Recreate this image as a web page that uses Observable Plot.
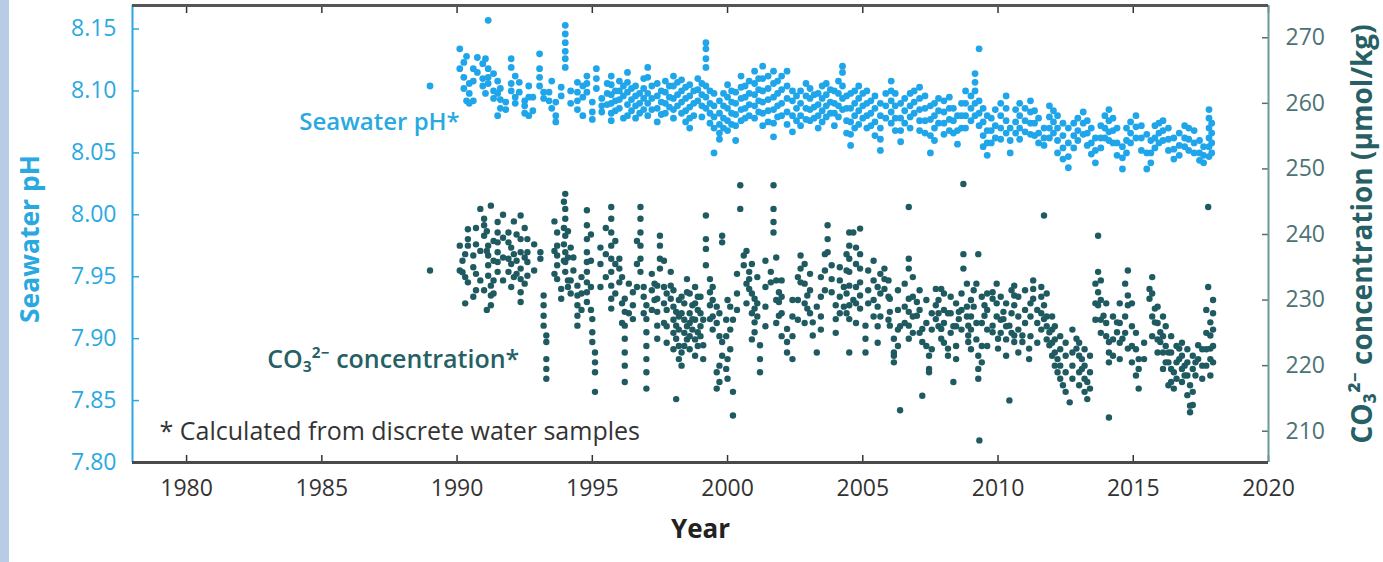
<!DOCTYPE html>
<html><head><meta charset="utf-8">
<script src="https://cdn.jsdelivr.net/npm/d3@7"></script>
<script src="https://cdn.jsdelivr.net/npm/@observablehq/plot@0.6"></script>
<style>
html,body{margin:0;padding:0;background:#fff;}
#wrap{position:relative;width:1383px;height:562px;overflow:hidden;}
#strip{position:absolute;left:0;top:0;width:9px;height:562px;background:#b8cce6;}
</style></head><body><div id="wrap"><div id="strip"></div><div id="chart"></div></div>
<script>
const yearTicks = [1980, 1985, 1990, 1995, 2000, 2005, 2010, 2015, 2020];
const phTicks = [7.80, 7.85, 7.90, 7.95, 8.00, 8.05, 8.10, 8.15];
const co3Ticks = [210, 220, 230, 240, 250, 260, 270];
const yearDomain = [1978, 2020];
const phDomain = [7.80, 8.169];
const co3Domain = [205.23, 274.92];

// [year, [pH values sampled around that time]]
const phColumns = [
[1989.0,[8.104]],[1990.1,[8.134,8.118]],[1990.25,[8.123,8.111,8.102]],[1990.35,[8.128,8.092]],[1990.45,[8.106,8.098,8.090]],
[1990.6,[8.118,8.108,8.092]],[1990.75,[8.127,8.115]],[1990.95,[8.122,8.110,8.104]],[1991.05,[8.126,8.098]],
[1991.15,[8.157,8.118,8.111,8.106]],[1991.35,[8.114,8.100,8.094]],[1991.5,[8.108,8.098,8.080]],
[1991.6,[8.102,8.093,8.086]],[1991.8,[8.091,8.085]],[1992.0,[8.126,8.119,8.106,8.100]],[1992.15,[8.112,8.095,8.090]],
[1992.3,[8.107,8.099]],[1992.5,[8.092,8.088,8.082]],[1992.65,[8.104,8.095,8.080]],[1992.8,[8.095,8.084]],
[1993.05,[8.130,8.118,8.111,8.104]],[1993.2,[8.099,8.094]],[1993.4,[8.099,8.092]],[1993.5,[8.108,8.086]],
[1993.65,[8.091,8.080,8.075]],[1993.85,[8.103,8.096]],[1994.0,[8.153,8.146,8.139,8.132,8.126,8.119]],
[1994.2,[8.100,8.090]],[1994.45,[8.107,8.099,8.092,8.085]],[1994.65,[8.104,8.095,8.080]],[1994.8,[8.112,8.106,8.099]],
[1995.0,[8.091,8.083,8.077]],[1995.15,[8.118,8.110,8.102]],[1995.35,[8.094,8.088,8.083]],[1995.55,[8.106,8.098,8.089]],
[1995.7,[8.112,8.105,8.097,8.090,8.082,8.076]],[1995.85,[8.100,8.092,8.084]],[1996.0,[8.108,8.100,8.093,8.086]],
[1996.15,[8.104,8.096,8.078]],[1996.3,[8.115,8.107,8.099,8.089,8.080]],[1996.45,[8.102,8.093,8.084]],
[1996.6,[8.104,8.096,8.088,8.078]],[1996.75,[8.098,8.090,8.082]],[1996.9,[8.110,8.102,8.094,8.085]],
[1997.05,[8.119,8.111,8.098,8.090,8.080]],[1997.2,[8.104,8.094,8.085]],[1997.4,[8.106,8.096,8.086,8.075]],
[1997.55,[8.100,8.091,8.081]],[1997.7,[8.108,8.099,8.090,8.082]],[1997.85,[8.104,8.095,8.087]],
[1998.0,[8.112,8.104,8.094,8.085,8.078]],[1998.15,[8.107,8.097,8.088]],[1998.3,[8.109,8.100,8.091,8.082]],
[1998.45,[8.103,8.094,8.084,8.075]],[1998.6,[8.105,8.096,8.087,8.078,8.070]],[1998.75,[8.100,8.090,8.080]],
[1998.9,[8.110,8.101,8.092]],[1999.05,[8.106,8.097,8.088,8.079]],[1999.2,[8.139,8.134,8.126,8.119,8.104,8.095,8.086]],
[1999.35,[8.100,8.090,8.082,8.074]],[1999.5,[8.098,8.088,8.079,8.070,8.050]],[1999.7,[8.092,8.082,8.073,8.066,8.061]],
[1999.85,[8.098,8.088,8.078,8.070]],[2000.0,[8.105,8.095,8.086,8.076,8.068]],[2000.15,[8.100,8.091,8.082,8.073]],
[2000.3,[8.099,8.090,8.081,8.072,8.060]],[2000.5,[8.112,8.103,8.094,8.085,8.076]],[2000.65,[8.104,8.095,8.086,8.078]],
[2000.8,[8.108,8.098,8.089,8.080]],[2001.0,[8.116,8.106,8.097,8.088,8.078]],[2001.15,[8.110,8.101,8.092,8.083]],
[2001.3,[8.120,8.110,8.100,8.091,8.082,8.072]],[2001.5,[8.112,8.102,8.093,8.084,8.075]],
[2001.7,[8.116,8.106,8.095,8.085,8.074,8.063]],[2001.85,[8.108,8.098,8.088,8.079]],[2002.0,[8.112,8.101,8.090,8.080]],
[2002.2,[8.116,8.104,8.094,8.083,8.073]],[2002.4,[8.100,8.092,8.080,8.067]],[2002.55,[8.096,8.086,8.076]],
[2002.7,[8.100,8.090,8.080,8.072]],[2002.9,[8.106,8.096,8.086,8.077]],[2003.05,[8.102,8.094,8.085,8.076]],
[2003.2,[8.097,8.087,8.078]],[2003.35,[8.098,8.089,8.080,8.070]],[2003.5,[8.104,8.094,8.084,8.075]],
[2003.65,[8.106,8.097,8.088,8.079]],[2003.8,[8.101,8.091,8.082]],[2003.95,[8.100,8.090,8.082,8.072]],
[2004.1,[8.108,8.098,8.088,8.079]],[2004.25,[8.120,8.115,8.104,8.094,8.085]],[2004.4,[8.096,8.086,8.076,8.066]],
[2004.55,[8.098,8.086,8.075,8.065,8.056]],[2004.7,[8.100,8.090,8.080,8.070]],[2004.85,[8.104,8.094,8.084,8.073]],
[2005.0,[8.098,8.088,8.078]],[2005.15,[8.100,8.090,8.080,8.070]],[2005.3,[8.092,8.082,8.072]],
[2005.45,[8.096,8.086,8.075,8.064]],[2005.65,[8.090,8.080,8.070,8.061,8.052]],[2005.85,[8.098,8.088,8.078]],
[2006.05,[8.108,8.100,8.092,8.083,8.074]],[2006.2,[8.098,8.088,8.078,8.068]],[2006.4,[8.090,8.078,8.068,8.059]],
[2006.55,[8.094,8.084,8.074]],[2006.75,[8.098,8.088,8.079,8.070]],[2006.9,[8.100,8.091,8.082]],
[2007.1,[8.103,8.094,8.085,8.076,8.068]],[2007.3,[8.096,8.086,8.076,8.066]],[2007.5,[8.088,8.077,8.064,8.050]],
[2007.65,[8.090,8.080,8.070,8.060]],[2007.8,[8.094,8.084,8.074]],[2008.0,[8.092,8.083,8.074,8.065]],
[2008.2,[8.095,8.086,8.077,8.068]],[2008.35,[8.086,8.076,8.066]],[2008.5,[8.080,8.068,8.057]],
[2008.65,[8.090,8.080,8.070]],[2008.8,[8.100,8.090,8.080,8.070]],[2009.0,[8.096,8.086,8.076]],
[2009.15,[8.114,8.107,8.100,8.090,8.080]],[2009.3,[8.134,8.092,8.082,8.072]],[2009.45,[8.086,8.075,8.064,8.055]],
[2009.6,[8.080,8.068,8.058,8.048]],[2009.75,[8.078,8.068,8.058]],[2009.9,[8.085,8.072,8.062]],
[2010.1,[8.090,8.080,8.070,8.061]],[2010.3,[8.096,8.086,8.076,8.066]],[2010.45,[8.070,8.060,8.050]],
[2010.65,[8.085,8.075,8.066]],[2010.8,[8.090,8.080,8.070,8.061]],[2011.0,[8.086,8.076,8.067]],
[2011.2,[8.092,8.083,8.074,8.065]],[2011.35,[8.084,8.074,8.064]],[2011.5,[8.078,8.066,8.058]],
[2011.7,[8.070,8.062,8.056]],[2011.9,[8.088,8.079,8.070,8.062]],[2012.05,[8.084,8.075,8.066]],
[2012.2,[8.080,8.070,8.060,8.050]],[2012.4,[8.074,8.064,8.054,8.045]],[2012.6,[8.070,8.058,8.047,8.038]],
[2012.8,[8.074,8.064,8.054]],[2012.95,[8.078,8.068,8.060]],[2013.15,[8.083,8.074,8.065]],
[2013.3,[8.076,8.066,8.056]],[2013.45,[8.070,8.058,8.049]],[2013.6,[8.062,8.052,8.042]],
[2013.8,[8.072,8.062,8.054]],[2013.95,[8.080,8.070,8.062]],[2014.1,[8.085,8.076,8.067,8.060]],
[2014.25,[8.078,8.068,8.058]],[2014.4,[8.070,8.058,8.048]],[2014.6,[8.055,8.046,8.037]],
[2014.75,[8.070,8.060,8.050]],[2014.9,[8.075,8.066,8.058]],[2015.1,[8.080,8.071,8.062]],
[2015.3,[8.072,8.062,8.052]],[2015.5,[8.065,8.050,8.037]],[2015.65,[8.060,8.050,8.042]],
[2015.8,[8.072,8.062,8.054]],[2015.95,[8.074,8.066,8.058]],[2016.1,[8.076,8.068,8.060]],
[2016.3,[8.070,8.061,8.052]],[2016.5,[8.062,8.053,8.045]],[2016.7,[8.066,8.056,8.048]],
[2016.9,[8.072,8.062,8.055]],[2017.05,[8.070,8.061,8.052]],[2017.25,[8.068,8.058,8.050]],
[2017.45,[8.060,8.050,8.044]],[2017.6,[8.055,8.048,8.042]],[2017.8,[8.085,8.078,8.070,8.062,8.055,8.047]],
[2017.9,[8.074,8.066,8.058,8.050]]
];

// [year, [CO3 2- concentration values, µmol/kg]]
const co3Columns = [
[1989.0,[234.5]],[1990.1,[234.5,238.3]],[1990.2,[234.25,236.0]],[1990.3,[237.0,233.5,229.5]],[1990.4,[240.8,239.3,238.3,232.7]],
[1990.6,[236.8,235.0,230.5]],[1990.7,[241.0,238.5,234.0,231.5]],[1990.86,[243.9,237.5,233.0]],[1991.0,[242.4,241.4,239.8,231.5]],
[1991.1,[240.5,237.5,228.5]],[1991.15,[238.3,236.8,235.3,233.7]],[1991.25,[244.4,232.2,230.7,229.2]],
[1991.35,[239.0,236.0,233.0,231.0]],[1991.5,[241.9,240.3,238.8,237.3,235.8,234.3]],[1991.7,[243.0,239.5,236.5,233.0]],
[1991.9,[240.3,238.8,236.3,234.3]],[1992.0,[238.0,235.5,232.0]],[1992.1,[242.0,237.0,233.5]],[1992.2,[240.0,236.0,234.0]],
[1992.35,[242.9,239.3,237.3,234.8,233.2,231.2,229.7]],[1992.5,[241.0,236.5,232.5]],
[1992.6,[239.3,237.3,235.8,233.7]],[1992.85,[238.5,234.5]],[1993.08,[237.3,236.3]],[1993.2,[230.7,229.2,227.6,226.1]],
[1993.3,[224.6,223.6,221.0,219.5,218.0]],[1993.6,[242.0,237.5,234.0]],[1993.7,[240.3,238.3,236.8,235.3,233.2]],
[1993.85,[231.7,230.2]],[1993.95,[245.0,241.0,238.5,236.0]],[1994.0,[246.2,243.9,242.4,239.8,237.3,235.8,234.3]],
[1994.1,[240.5,236.5,233.0,232.0]],[1994.2,[238.0,233.0,231.0]],[1994.3,[236.5,234.5]],
[1994.45,[232.2,230.7,229.2,227.6,226.1]],[1994.6,[233.5,231.0,228.5]],
[1994.8,[243.7,241.4,239.3,237.3,235.8,234.3,232.7,231.2,229.7]],[1994.95,[240.0,236.0,232.0,228.5]],
[1995.0,[227.1,225.1,223.6]],[1995.1,[222.0,220.5,219.0,216.0]],[1995.3,[238.0,235.5,232.0]],[1995.5,[241.0,237.0,233.5]],
[1995.7,[244.2,242.4,240.3,238.3,236.3,234.3,232.2,230.2,228.7]],[1995.85,[239.0,235.5,231.0]],[1996.0,[236.3,234.8,232.7]],
[1996.1,[233.5,229.5,226.5]],[1996.2,[230.2,228.2,226.1,224.1,222.0,220.0,217.5]],[1996.35,[232.5,228.0]],
[1996.5,[231.2,229.2,227.1]],[1996.65,[239.0,235.5,232.0]],[1996.78,[244.2,242.4,240.3,238.3,236.3,234.3]],
[1996.9,[232.0,230.5,228.0]],[1997.0,[229.2,227.1,225.1,223.0,221.0,219.0,216.5]],[1997.2,[234.0,231.5,228.5]],
[1997.3,[232.5,230.0]],[1997.4,[232.2,230.2,228.2,226.1,224.1]],[1997.5,[239.8,238.3,236.3,234.8]],
[1997.65,[236.0,232.0,229.5,226.5]],[1997.75,[231.0,228.5,226.0,223.5]],[1997.9,[234.3,232.2,230.2]],
[1998.0,[231.5,229.0,227.0,225.0,222.5]],[1998.1,[228.2,226.1,224.1,214.9]],[1998.2,[230.0,227.5,225.5,223.0,221.0]],
[1998.3,[222.0,220.0,230.5,228.0]],[1998.4,[229.5,227.0,225.0,223.0]],[1998.5,[233.2,231.2,226.0,224.0]],
[1998.6,[231.0,228.0,226.5,224.5,222.5]],[1998.7,[229.2,227.1,225.5]],[1998.8,[232.0,229.5,227.0,224.0,221.5]],
[1998.9,[225.1,228.5,230.5,223.0]],[1999.0,[230.5,228.0,226.0,224.5]],[1999.1,[223.1,221.0,227.0]],
[1999.2,[242.9,239.3,237.8,235.3]],[1999.35,[233.2,231.2,229.2,227.1]],[1999.45,[232.0,230.0,227.5,225.5]],
[1999.6,[216.5,219.0,229.0,226.5]],[1999.7,[228.0,224.5,220.0,217.5]],[1999.8,[239.8,238.8,221.5,223.6]],
[1999.95,[227.0,224.5,219.5]],[2000.0,[221.0,218.0,230.0]],[2000.1,[229.0,225.5,222.5]],[2000.2,[216.0,212.4,227.0]],
[2000.35,[234.0,231.0,228.5]],[2000.47,[247.5,243.9]],[2000.6,[236.8,235.3]],[2000.7,[237.5,232.5,229.5]],
[2000.8,[234.3,233.2,231.7]],[2000.9,[235.5,231.0,228.0,224.0]],[2001.0,[230.2,228.7,226.6,225.1]],
[2001.1,[233.5,229.5,227.5]],[2001.2,[223.1,221.0,219.0]],[2001.4,[236.0,232.0,229.0,226.0]],
[2001.6,[234.3,232.7]],[2001.7,[247.5,243.9,241.9,240.3]],[2001.8,[236.5,233.0,230.0,226.5]],
[2001.9,[231.2,229.7,227.6]],[2002.0,[233.0,230.5,228.0,224.5]],[2002.2,[225.6,223.6,222.0]],
[2002.4,[230.0,227.5,224.5,221.0]],[2002.6,[233.5,230.0,227.0]],[2002.7,[236.8,234.8,232.7]],
[2002.85,[235.5,232.5,229.5,226.5]],[2002.95,[230.7,228.7]],[2003.05,[234.0,231.5,228.0]],[2003.15,[226.6,224.6]],
[2003.3,[222.0,229.0]],[2003.45,[233.5,230.5,227.5,225.5]],[2003.6,[237.0,234.5,231.5]],[2003.7,[241.4,239.3,237.3]],
[2003.85,[235.3,233.2,231.2]],[2004.0,[229.2,227.1,225.0]],[2004.15,[235.0,233.0,230.5,228.0]],[2004.3,[232.0,229.0]],
[2004.4,[237.0,234.5,231.0,228.0]],[2004.5,[240.3,238.3,236.3,234.3,232.2,229.2,227.1,222.0]],[2004.65,[240.3,230.0]],
[2004.75,[238.0,235.5,232.0,229.5,226.5]],[2004.9,[240.9,237.0,234.8,232.7,230.7,228.7]],[2005.1,[226.1,224.1,222.0]],
[2005.2,[234.5,231.5,229.5]],[2005.4,[236.0,233.0,230.0,227.5]],[2005.55,[232.0,229.0,226.0,223.5]],
[2005.65,[234.0,231.0,227.5]],[2005.8,[234.8,233.2,231.7]],[2005.95,[233.0,230.5,227.0]],[2006.0,[230.2,228.2,226.1]],
[2006.15,[224.1,222.0,220.5,221.5]],[2006.3,[231.5,228.5,225.5,223.0]],[2006.38,[213.2,226.0]],
[2006.55,[232.5,229.0,226.5]],[2006.7,[244.2,236.3,234.8,230.2,228.2,226.1,224.1]],[2006.85,[233.5,230.5,227.5,225.0]],
[2007.0,[229.7,227.6]],[2007.1,[231.5,228.5,225.0]],[2007.2,[225.6,223.6,215.4]],[2007.35,[230.0,226.5,223.0]],
[2007.45,[221.5,219.5,219.0]],[2007.55,[228.0,225.5,222.5]],[2007.7,[231.7,229.2,227.1]],[2007.8,[230.0,228.0,226.0]],
[2007.9,[231.7,225.6,224.1]],[2008.0,[231.0,228.5,226.5,223.5]],[2008.15,[222.6,221.5,228.0]],[2008.25,[230.5,228.0,225.0]],
[2008.35,[217.5,226.0]],[2008.45,[229.5,226.0,223.0,221.0]],[2008.55,[228.2,227.1]],[2008.65,[231.0,228.5,225.5]],
[2008.72,[247.7,237.0,234.8]],[2008.85,[232.5,229.0,227.5]],[2008.9,[226.1,224.6,223.6]],[2009.0,[230.0,227.5,225.5,222.5]],
[2009.1,[231.5,229.0]],[2009.2,[232.5,226.5,224.0]],[2009.27,[237.0,221.5,219.5,218.0]],[2009.31,[208.6]],
[2009.4,[230.5,226.5,223.0,220.5]],[2009.5,[229.2,227.6]],[2009.6,[231.0,228.5,225.5,223.0]],
[2009.8,[231.2,230.2,226.1,225.1]],[2009.95,[232.5,229.5,227.5]],[2010.0,[224.1,222.6]],[2010.1,[230.5,227.0,225.0]],
[2010.2,[228.2,227.1]],[2010.3,[229.5,226.0,224.0,221.5]],[2010.42,[226.1,214.7]],[2010.5,[231.5,228.0,225.0]],
[2010.6,[232.2,230.7,229.2,224.6,223.6]],[2010.75,[230.5,227.5,225.5,222.0]],[2010.9,[224.6,223.6]],
[2011.0,[231.5,228.5,226.5]],[2011.15,[222.6,221.0]],[2011.2,[229.5,227.5,224.5]],[2011.3,[233.0,231.7,230.2]],
[2011.45,[228.5,226.5,223.5]],[2011.6,[232.0,230.5,228.0,225.5]],[2011.7,[242.9,229.2,227.1]],
[2011.8,[231.0,227.5,226.0,224.0]],[2011.9,[225.1,223.1]],[2012.0,[227.5,225.5,223.5,221.5]],
[2012.1,[226.0,224.0,222.0,220.0]],[2012.2,[221.0,219.0]],[2012.3,[224.5,222.5,220.0,218.0]],[2012.4,[217.0]],
[2012.5,[223.5,221.5,219.0,216.0]],[2012.65,[214.4]],[2012.75,[225.5,222.0,220.0,218.0]],[2012.9,[224.1,222.6]],
[2013.0,[223.5,221.5,219.0,217.0]],[2013.1,[221.0,219.5]],[2013.2,[222.5,220.0,218.0,216.0]],[2013.3,[217.5,214.9]],
[2013.4,[221.5,219.0,216.5]],[2013.6,[232.5,229.5,227.0]],[2013.7,[239.8,234.3,231.2,229.2]],
[2013.8,[233.0,230.0,227.0,225.0]],[2013.9,[227.6]],[2014.0,[229.5,226.5,224.5]],[2014.1,[223.6,222.0,220.5,212.1]],
[2014.25,[227.5,224.0,221.5]],[2014.4,[226.6,225.1]],[2014.5,[229.5,226.5,223.5,221.0]],[2014.6,[224.1]],
[2014.7,[232.5,227.5,225.0]],[2014.8,[234.5,230.7,229.2,222.6]],[2014.95,[229.5,226.0,223.0,220.5]],
[2015.1,[225.0,222.5,218.5]],[2015.2,[221.0,219.5,216.5]],[2015.4,[223.5,221.0]],[2015.6,[231.7,230.2]],
[2015.7,[233.5,231.0,227.5,224.5]],[2015.8,[228.7,226.6]],[2015.9,[229.0,226.5,224.0,222.0]],[2016.0,[225.1,223.6]],
[2016.1,[227.5,224.5,222.0,219.5]],[2016.2,[226.0,223.0,220.5]],[2016.3,[222.0,220.5,217.0]],
[2016.4,[224.5,222.0,219.5,217.5]],[2016.5,[219.0,216.5]],[2016.6,[223.0,220.5,218.0]],[2016.7,[222.6,221.0]],
[2016.8,[223.5,221.5,219.5,217.5]],[2016.9,[220.0,218.5]],[2017.0,[222.5,220.5,218.5,215.5]],
[2017.1,[217.0,213.9,212.9]],[2017.2,[221.5,219.5,216.0,214.0]],[2017.3,[220.5,218.5]],[2017.4,[223.1,221.0]],
[2017.55,[222.5,220.0,218.0]],[2017.7,[228.5,225.0,222.5,220.0]],[2017.77,[244.2,232.0]],
[2017.85,[226.6,224.6,222.6,221.0,218.5]],[2017.95,[230.0,228.0,225.5,223.0,220.5]]
];

const phSamples = phColumns.flatMap(([t, vs]) => vs.map(v => ({year: t, value: v})));
const co3Samples = co3Columns.flatMap(([t, vs]) => vs.map(v => ({year: t, value: v})));

// right axis (CO3) is a linear rescale of the left (pH) axis
const co3ToPh = d3.scaleLinear().domain(co3Domain).range(phDomain);

const font = "'Open Sans', 'Noto Sans', sans-serif";
const cyan = "#2aa9e1", teal = "#265f65", grey = "#333";

const chart = Plot.plot({
  width: 1383, height: 562,
  marginLeft: 132, marginRight: 115, marginTop: 5, marginBottom: 100,
  x: {domain: yearDomain},
  y: {domain: phDomain},
  style: {fontFamily: font, background: "transparent", overflow: "visible"},
  marks: [
    Plot.dot(phSamples, {x: "year", y: "value", r: 3.4, fill: "#1fa5ea", stroke: "none"}),
    Plot.dot(co3Samples, {x: "year", y: d => co3ToPh(d.value), r: 3.2, fill: "#1f5a61", stroke: "none"}),
    Plot.axisX({anchor: "bottom", ticks: yearTicks, tickSize: -7, tickPadding: 24, tickFormat: d => String(d), fontSize: 23, color: grey, label: null, strokeWidth: 1.5}),
    Plot.axisX({anchor: "top", ticks: yearTicks, tickSize: -7, tickFormat: () => "", label: null, color: grey, strokeWidth: 1.5}),
    Plot.axisY({anchor: "left", ticks: phTicks, tickSize: -7, tickPadding: 23, tickFormat: d => d.toFixed(2), fontSize: 23, color: cyan, label: null, strokeWidth: 1.5}),
    Plot.axisY({anchor: "right", ticks: co3Ticks.map(co3ToPh), tickSize: -7, tickPadding: 24, tickFormat: d => String(Math.round(co3ToPh.invert(d))), fontSize: 23, color: "#4c7275", label: null, strokeWidth: 1.5}),
    Plot.ruleX([yearDomain[0]], {stroke: cyan, strokeWidth: 2}),
    Plot.ruleX([yearDomain[1]], {stroke: "#6a999d", strokeWidth: 2}),
    Plot.ruleY([phDomain[0]], {stroke: "#4a4a4a", strokeWidth: 3}),
    Plot.ruleY([phDomain[1]], {stroke: "#555", strokeWidth: 3}),
    Plot.text(["Year"], {frameAnchor: "bottom", dy: 75, fontSize: 26, fontWeight: "bold", fill: "#222"}),
    Plot.text(["Seawater pH"], {frameAnchor: "left", dx: -102, dy: 5, rotate: -90, textAnchor: "middle", fontSize: 26.5, fontWeight: "bold", fill: cyan}),
    Plot.text(["CO₃²⁻ concentration (µmol/kg)"], {frameAnchor: "right", dx: 95, rotate: -90, textAnchor: "middle", fontSize: 28, fontWeight: "bold", fill: teal}),
    Plot.text(["Seawater pH*"], {x: 1990.1, y: 8.0744, textAnchor: "end", fontSize: 24, fontWeight: 600, fill: cyan}),
    Plot.text(["CO₃²⁻ concentration*"], {x: 1992.3, y: 7.8825, textAnchor: "end", fontSize: 25, fontWeight: 600, fill: teal}),
    Plot.text(["* Calculated from discrete water samples"], {x: 1979.0, y: 7.8244, textAnchor: "start", fontSize: 25, fill: grey})
  ]
});
document.getElementById("chart").appendChild(chart);
</script></body></html>
